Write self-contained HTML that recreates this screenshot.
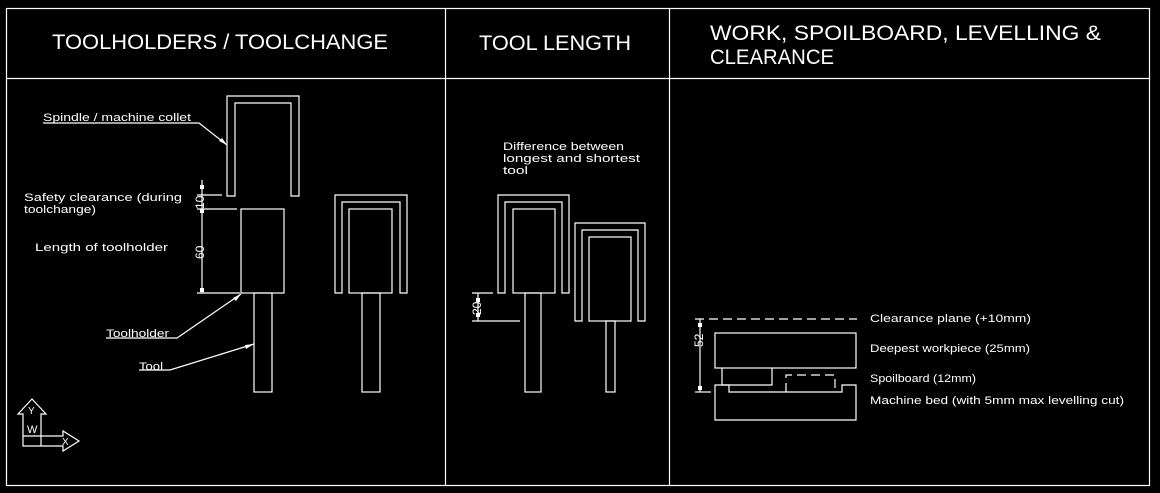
<!DOCTYPE html>
<html><head><meta charset="utf-8"><style>
html,body{margin:0;padding:0;background:#000;}
svg{display:block}
text{fill:#fff;font-family:"Liberation Sans",sans-serif;}
</style></head><body>
<svg width="1160" height="493" viewBox="0 0 1160 493" xmlns="http://www.w3.org/2000/svg">
<g stroke="#fff" stroke-width="1.2" fill="none">
<rect x="6.5" y="8.5" width="1143" height="477"/>
<line x1="6" y1="78.5" x2="1150" y2="78.5"/>
<line x1="445.5" y1="8" x2="445.5" y2="486"/>
<line x1="669.5" y1="8" x2="669.5" y2="486"/>

<!-- panel 1 -->
<path d="M227,196 V96 H299 V196 H291 V103 H235 V196 Z"/>
<rect x="241" y="209" width="43" height="84"/>
<rect x="254" y="293" width="18" height="99"/>
<path d="M335,293 V195 H407 V293 H400 V202 H342 V293 Z"/>
<rect x="349" y="209" width="43" height="84"/>
<rect x="362" y="293" width="18" height="99"/>
<line x1="202" y1="180" x2="202" y2="293"/>
<line x1="197" y1="195" x2="222" y2="195"/>
<line x1="197" y1="209" x2="237" y2="209"/>
<line x1="197" y1="293" x2="240" y2="293"/>
<polyline points="43,123 199,123 227,145"/>
<polyline points="106,338 177,338 241,294"/>
<polyline points="139,370 170,370 254,344"/>
<!-- axis icon -->
<path d="M23,446 V414 H18 L32,399 L46,414 H41 V436 H63 V431 L79,441 L63,451 V446 Z"/>
<line x1="23" y1="436" x2="41" y2="436"/>
<line x1="41" y1="436" x2="41" y2="446"/>

<!-- panel 2 -->
<path d="M498,293 V195 H569 V293 H562 V202 H505 V293 Z"/>
<rect x="513" y="209" width="42" height="84"/>
<rect x="525" y="293" width="16" height="99"/>
<path d="M575,321 V223 H645 V321 H638 V230 H582 V321 Z"/>
<rect x="589" y="237" width="42" height="84"/>
<rect x="606" y="321" width="9" height="71"/>
<line x1="478" y1="293" x2="478" y2="321"/>
<line x1="472" y1="293" x2="493" y2="293"/>
<line x1="472" y1="321" x2="520" y2="321"/>

<!-- panel 3 -->
<line x1="695" y1="319" x2="857" y2="319" stroke-dasharray="9,5"/>
<line x1="700" y1="319" x2="700" y2="392"/>
<line x1="695" y1="392" x2="711" y2="392"/>
<rect x="715" y="333" width="141" height="35"/>
<polyline points="722,368 722,385 772,385 772,368"/>
<path d="M715,385 H729 V392 H842 V385 H856 V420 H715 Z"/>
<polyline points="786,392 786,375 835,375 835,392" stroke-dasharray="9,5"/>
</g>
<g fill="#fff">
<rect x="200" y="185" width="4" height="4"/><rect x="200" y="209" width="4" height="4"/><rect x="200" y="288" width="4" height="4"/>
<rect x="476" y="298" width="4" height="4"/><rect x="476" y="313" width="4" height="4"/>
<rect x="698" y="323" width="4" height="4"/><rect x="698" y="386" width="4" height="4"/>
<polygon points="227,145 219,141 222,138"/>
<polygon points="241,294 236,301 233,298"/>
<polygon points="254,344 246,349 245,345"/>
</g>

<text x="52" y="49" font-size="21" textLength="336" lengthAdjust="spacingAndGlyphs">TOOLHOLDERS / TOOLCHANGE</text>
<text x="479" y="50" font-size="21" textLength="152" lengthAdjust="spacingAndGlyphs">TOOL LENGTH</text>
<text x="710" y="40" font-size="21" textLength="391" lengthAdjust="spacingAndGlyphs">WORK, SPOILBOARD, LEVELLING &amp;</text>
<text x="710" y="64" font-size="21" textLength="124" lengthAdjust="spacingAndGlyphs">CLEARANCE</text>

<g font-size="11">
<text x="43" y="121" textLength="148" lengthAdjust="spacingAndGlyphs">Spindle / machine collet</text>
<text x="24" y="201" textLength="158" lengthAdjust="spacingAndGlyphs">Safety clearance (during</text>
<text x="24" y="213" textLength="72" lengthAdjust="spacingAndGlyphs">toolchange)</text>
<text x="35" y="251" textLength="133" lengthAdjust="spacingAndGlyphs">Length of toolholder</text>
<text x="106" y="337" textLength="63" lengthAdjust="spacingAndGlyphs">Toolholder</text>
<text x="139" y="370" textLength="24" lengthAdjust="spacingAndGlyphs">Tool</text>
<text x="503" y="150" textLength="121" lengthAdjust="spacingAndGlyphs">Difference between</text>
<text x="503" y="162" textLength="137" lengthAdjust="spacingAndGlyphs">longest and shortest</text>
<text x="503" y="174" textLength="25" lengthAdjust="spacingAndGlyphs">tool</text>
<text x="870" y="322" textLength="161" lengthAdjust="spacingAndGlyphs">Clearance plane (+10mm)</text>
<text x="870" y="352" textLength="160" lengthAdjust="spacingAndGlyphs">Deepest workpiece (25mm)</text>
<text x="870" y="382" textLength="106" lengthAdjust="spacingAndGlyphs">Spoilboard (12mm)</text>
<text x="870" y="404" textLength="254" lengthAdjust="spacingAndGlyphs">Machine bed (with 5mm max levelling cut)</text>
<text transform="translate(204,209) rotate(-90)" font-size="12">10</text>
<text transform="translate(204,259) rotate(-90)" font-size="12">60</text>
<text transform="translate(481,315) rotate(-90)" font-size="12">20</text>
<text transform="translate(703,347) rotate(-90)" font-size="12">52</text>
<text x="27" y="433" font-size="11">W</text>
<text x="28" y="414" font-size="10">Y</text>
<text x="62" y="445" font-size="10">X</text>
</g>
</svg>
</body></html>
